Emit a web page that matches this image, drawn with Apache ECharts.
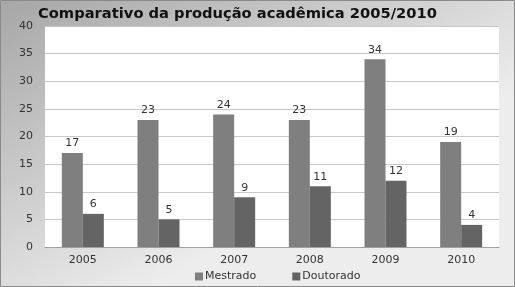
<!DOCTYPE html>
<html><head><meta charset="utf-8">
<script src="https://cdn.jsdelivr.net/npm/echarts@6/dist/echarts.min.js"></script>
<style>html,body{margin:0;padding:0;}#c{width:515px;height:287px;}</style>
</head><body><div id="c"></div>
<script>
var categories = ['2005','2006','2007','2008','2009','2010'];
var mestrado = [17, 23, 24, 23, 34, 19];
var doutorado = [6, 5, 9, 11, 12, 4];
var yTicks = [0, 5, 10, 15, 20, 25, 30, 35, 40];

var chart = echarts.init(document.getElementById('c'), null, {renderer:'canvas'});
var font = '"DejaVu Sans", Verdana, sans-serif';
chart.setOption({
  animation: false,
  graphic: [{
    type: 'rect', z: -10, silent: true,
    shape: {x: 0.5, y: 0.5, width: 514, height: 286},
    style: {
      fill: new echarts.graphic.LinearGradient(0, 0, 0.3, 1, [
        {offset: 0, color: '#a6a6a6'},
        {offset: 1, color: '#ededed'}
      ]),
      stroke: '#8a8a8a', lineWidth: 1
    }
  }],
  title: {
    text: 'Comparativo da produção acadêmica 2005/2010',
    left: 33, top: 2,
    textStyle: {fontFamily: font, fontWeight: 'bold', fontSize: 14.7, color: '#111'}
  },
  legend: {
    data: ['Mestrado', 'Doutorado'],
    top: 271, left: 195, padding: 0,
    itemWidth: 8, itemHeight: 8, itemGap: 36,
    icon: 'rect',
    textStyle: {fontFamily: font, fontSize: 11, color: '#333', padding: [0,0,0,-3]}
  },
  grid: {left: 45, right: 16, top: 26, bottom: 40, show: true, backgroundColor: '#ffffff', borderWidth: 0},
  xAxis: {
    type: 'category', data: categories,
    axisTick: {show: false},
    axisLine: {lineStyle: {color: '#a0a0a0'}},
    axisLabel: {fontFamily: font, fontSize: 11, color: '#333', margin: 8}
  },
  yAxis: {
    type: 'value', min: yTicks[0], max: yTicks[yTicks.length-1], interval: 5,
    axisLine: {show: false}, axisTick: {show: false},
    splitLine: {lineStyle: {color: '#c8c8c8'}},
    axisLabel: {fontFamily: font, fontSize: 11, color: '#333', margin: 12}
  },
  series: [
    {name: 'Mestrado', type: 'bar', data: mestrado, barWidth: 21, barGap: '0%',
     itemStyle: {color: '#7f7f7f'},
     label: {show: true, position: 'top', distance: 4, fontFamily: font, fontSize: 11, color: '#333'}},
    {name: 'Doutorado', type: 'bar', data: doutorado, barWidth: 21,
     itemStyle: {color: '#646464'},
     label: {show: true, position: 'top', distance: 4, fontFamily: font, fontSize: 11, color: '#333'}}
  ]
});
</script></body></html>
